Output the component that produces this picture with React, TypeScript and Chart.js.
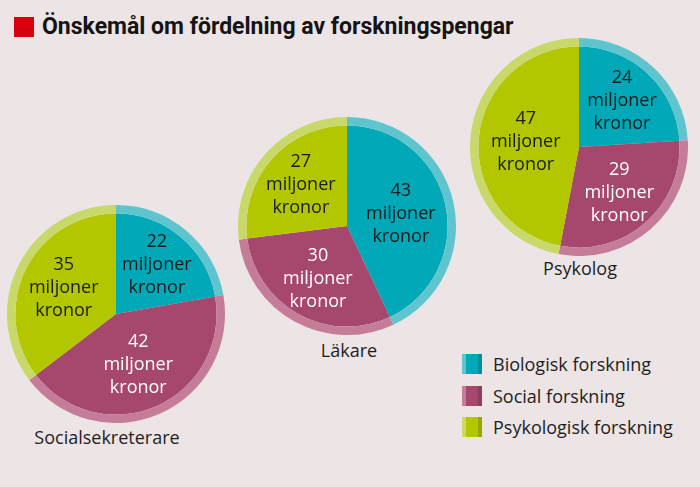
import React, { useEffect, useRef } from "react";
import { Chart, registerables } from "chart.js";

Chart.register(...registerables);

// ---- Data ----
const titleText = "Önskemål om fördelning av forskningspengar";
const categories = ["Biologisk forskning", "Social forskning", "Psykologisk forskning"];
const professions = ["Socialsekreterare", "Läkare", "Psykolog"];
const socialsekreterareValues = [22, 42, 35];
const lakareValues = [43, 30, 27];
const psykologValues = [24, 29, 47];
const unitLines = ["miljoner", "kronor"];

// ---- Styles ----
const darkColors = ["#00a8b8", "#a6486e", "#b2c700"];
const lightColors = ["#5ec5cf", "#c47c99", "#c8d96a"];
const labelColors = ["#1c1c1c", "#ffffff", "#1c1c1c"];
const BG = "#ece4e5";
const FONT = '"Open Sans", sans-serif';
const R = 109;

const pieLayout = [
  { values: socialsekreterareValues, cx: 116, cy: 314, labelX: 107, labelY: 437 },
  { values: lakareValues, cx: 347, cy: 226, labelX: 349, labelY: 350 },
  { values: psykologValues, cx: 579, cy: 147, labelX: 580, labelY: 268 },
];

const sliceLabelPlugin = {
  id: "sliceLabels",
  afterDatasetsDraw(chart: any) {
    const meta = chart.getDatasetMeta(1);
    const ds = chart.data.datasets[1];
    const ctx = chart.ctx;
    ctx.save();
    ctx.font = `18px ${FONT}`;
    ctx.textAlign = "center";
    ctx.textBaseline = "middle";
    meta.data.forEach((arc: any, i: number) => {
      const p = arc.getProps(["x", "y", "startAngle", "endAngle", "outerRadius"], true);
      const mid = (p.startAngle + p.endAngle) / 2;
      const v = ds.data[i];
      const d = p.outerRadius * (0.72 - 0.004 * v);
      const x = p.x + Math.cos(mid) * d;
      const y = p.y + Math.sin(mid) * d;
      const lines = [String(v), ...unitLines];
      ctx.fillStyle = labelColors[i];
      lines.forEach((t, j) => ctx.fillText(t, x, y + (j - 1) * 23));
    });
    ctx.restore();
  },
};

function Pie({ values, left, top }: { values: number[]; left: number; top: number }) {
  const ref = useRef<HTMLCanvasElement | null>(null);
  useEffect(() => {
    if (!ref.current) return;
    const chart = new Chart(ref.current, {
      type: "doughnut",
      data: {
        labels: categories,
        datasets: [
          { data: values, backgroundColor: lightColors, borderWidth: 0, hoverOffset: 0, weight: 1 } as any,
          { data: values, backgroundColor: darkColors, borderWidth: 0, hoverOffset: 0, weight: 12 } as any,
        ],
      },
      options: {
        responsive: false,
        animation: false,
        cutout: 0,
        layout: { padding: 0 },
        events: [],
        plugins: { legend: { display: false }, tooltip: { enabled: false } },
      } as any,
      plugins: [sliceLabelPlugin],
    });
    return () => chart.destroy();
  }, [values]);
  return (
    <canvas
      ref={ref}
      width={R * 2}
      height={R * 2}
      style={{ position: "absolute", left, top, width: R * 2, height: R * 2 }}
    />
  );
}

export default function App() {
  useEffect(() => {
    document.body.style.margin = "0";
    document.body.style.background = BG;
  }, []);
  return (
    <div style={{ position: "relative", width: 700, height: 487, background: BG, overflow: "hidden", fontFamily: FONT }}>
      <div style={{ position: "absolute", left: 14, top: 17, width: 20, height: 20, background: "#d7000f" }} />
      <div
        style={{
          position: "absolute",
          left: 42,
          top: 12,
          fontFamily: "Roboto, sans-serif",
          fontWeight: 700,
          fontSize: 23,
          lineHeight: "30px",
          color: "#141414",
          whiteSpace: "nowrap",
        }}
      >
        {titleText}
      </div>
      {pieLayout.map((p, i) => (
        <React.Fragment key={i}>
          <Pie values={p.values} left={p.cx - R} top={p.cy - R} />
          <div
            style={{
              position: "absolute",
              left: p.labelX - 100,
              width: 200,
              textAlign: "center",
              top: p.labelY - 12,
              fontSize: 18,
              lineHeight: "24px",
              color: "#1e1e1e",
              whiteSpace: "nowrap",
            }}
          >
            {professions[i]}
          </div>
        </React.Fragment>
      ))}
      {categories.map((c, i) => (
        <React.Fragment key={c}>
          <div
            style={{
              position: "absolute",
              left: 462,
              top: 354 + i * 31.5,
              width: 20,
              height: 20,
              background: `linear-gradient(to right, ${lightColors[i]} 0 20%, ${darkColors[i]} 20% 80%, ${darkColors[i]} 80%)`,
              boxShadow: `inset -4px 0 0 rgba(0,0,0,0.15)`,
            }}
          />
          <div
            style={{
              position: "absolute",
              left: 493,
              top: 352 + i * 31.5,
              fontSize: 18,
              lineHeight: "24px",
              color: "#1e1e1e",
              whiteSpace: "nowrap",
            }}
          >
            {c}
          </div>
        </React.Fragment>
      ))}
    </div>
  );
}
